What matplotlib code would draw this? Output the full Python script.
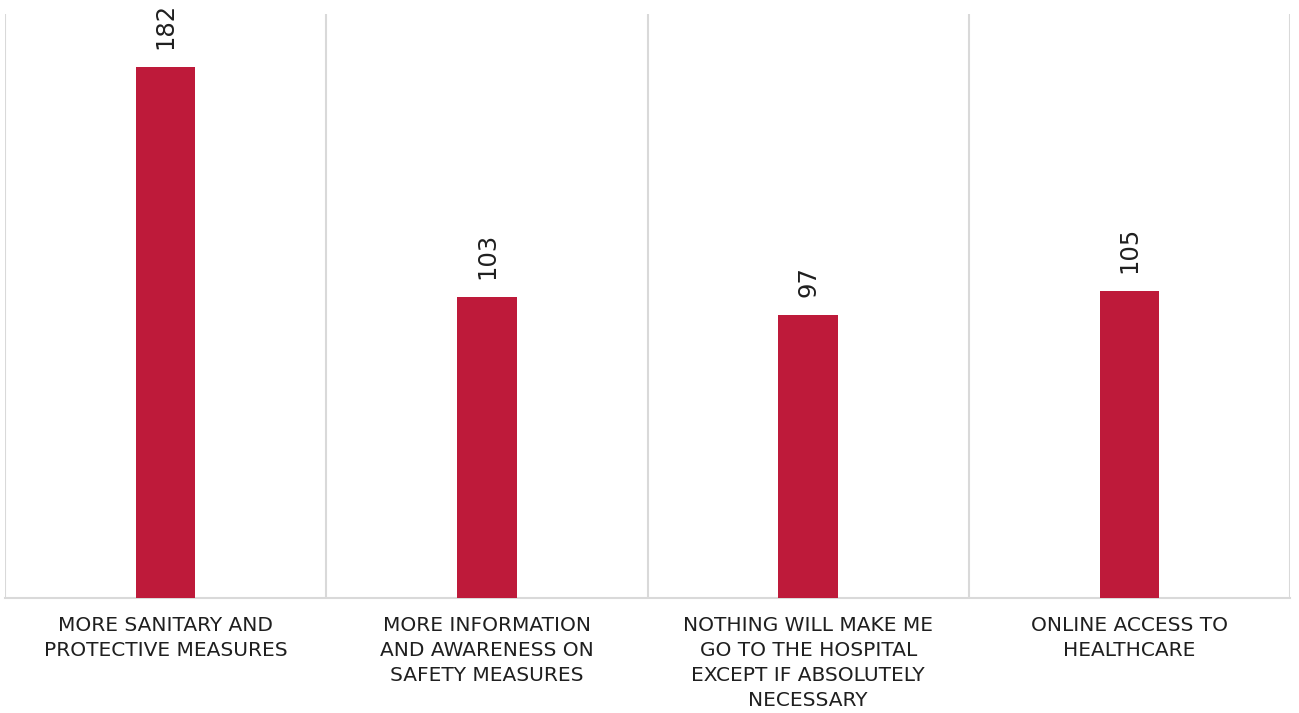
import matplotlib.pyplot as plt

categories = [
    "MORE SANITARY AND\nPROTECTIVE MEASURES",
    "MORE INFORMATION\nAND AWARENESS ON\nSAFETY MEASURES",
    "NOTHING WILL MAKE ME\nGO TO THE HOSPITAL\nEXCEPT IF ABSOLUTELY\nNECESSARY",
    "ONLINE ACCESS TO\nHEALTHCARE",
]
values = [182, 103, 97, 105]

plt.rcParams['font.family'] = ['DejaVu Sans']

fig = plt.figure(figsize=(12.99, 7.13), dpi=100)
ax = fig.add_axes([5/1299, 115/713, 1285/1299, 584/713])

x = list(range(len(values)))
ax.bar(x, values, width=0.185, color='#BE1A3A', zorder=3)
for xi, v in zip(x, values):
    ax.annotate(str(v), (xi, v), xytext=(0, 13), textcoords='offset points',
                rotation=90, ha='center', va='bottom', fontsize=17.5, color='#1f1f1f')

for b in [i - 0.5 for i in range(len(values) + 1)]:
    ax.axvline(b, color='#D9D9D9', lw=1.5, zorder=1)

ax.set_xlim(-0.5, len(values) - 0.5)
ax.set_ylim(0, 200)
ax.set_yticks([])
ax.set_xticks(x)
ax.set_xticklabels(categories, fontsize=14.5, color='#1f1f1f', linespacing=1.4)
ax.tick_params(axis='x', length=0, pad=13)
for s in ['top', 'left', 'right']:
    ax.spines[s].set_visible(False)
ax.spines['bottom'].set_color('#D9D9D9')
ax.spines['bottom'].set_linewidth(1.5)

fig.savefig('out.png', dpi=100)
